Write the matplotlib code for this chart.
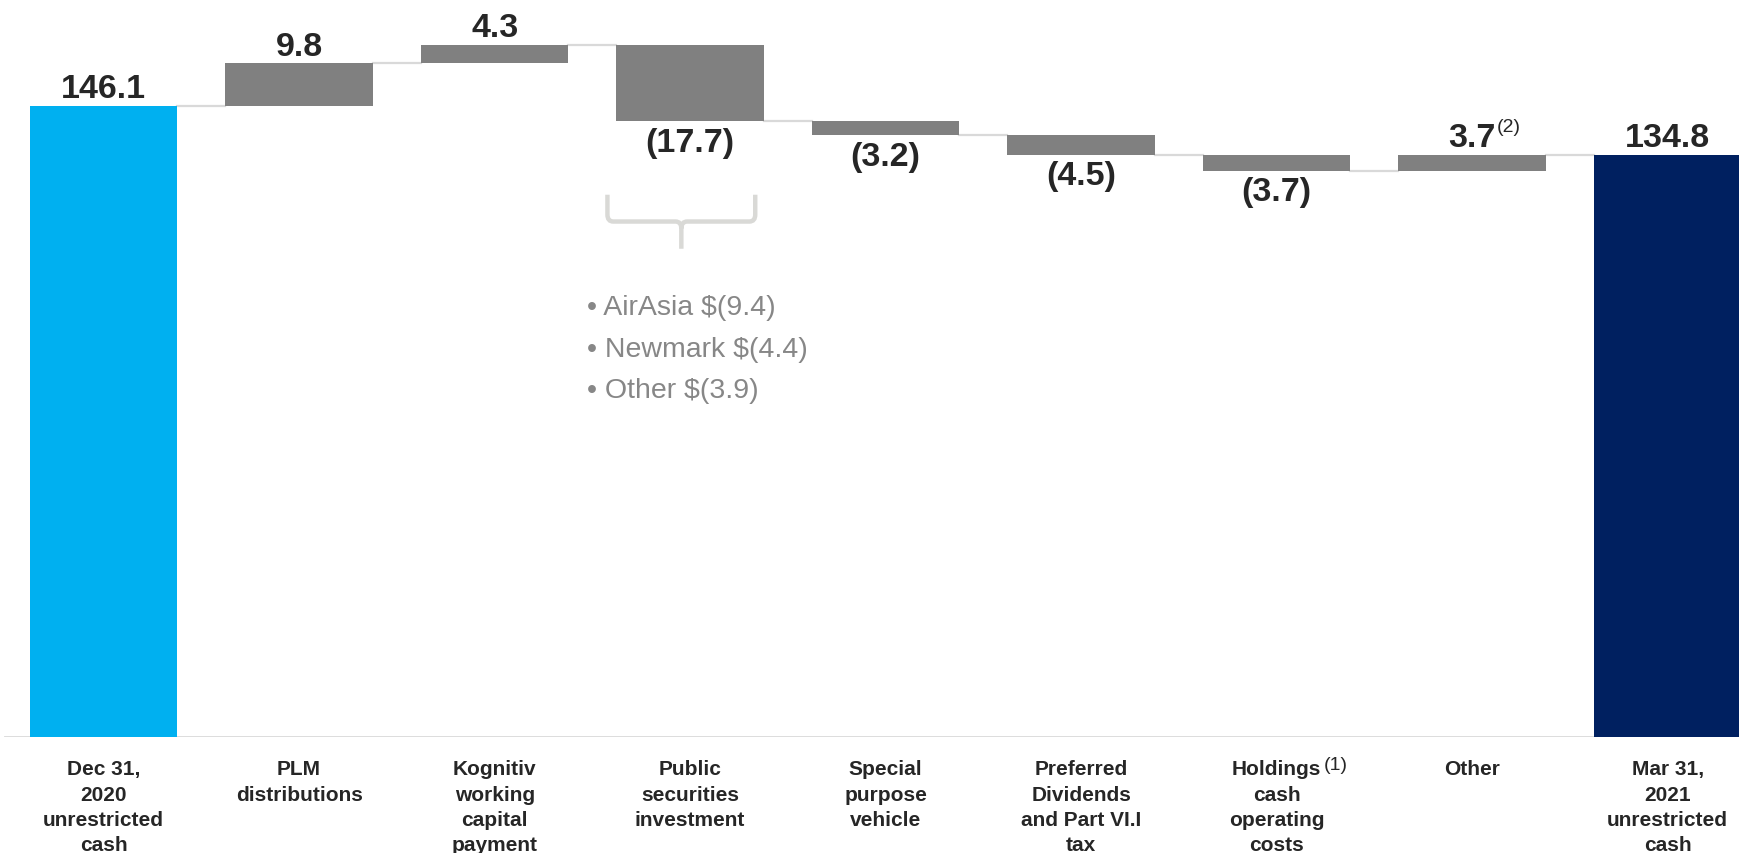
import numpy as np
import matplotlib.pyplot as plt
from matplotlib.path import Path
from matplotlib.patches import PathPatch

# --- data -------------------------------------------------------------
categories = ["Dec 31,\n2020\nunrestricted\ncash", "PLM\ndistributions",
              "Kognitiv\nworking\ncapital\npayment", "Public\nsecurities\ninvestment",
              "Special\npurpose\nvehicle", "Preferred\nDividends\nand Part VI.I\ntax",
              "Holdings\ncash\noperating\ncosts", "Other",
              "Mar 31,\n2021\nunrestricted\ncash"]
start_cash = 146.1
changes = [9.8, 4.3, -17.7, -3.2, -4.5, -3.7, 3.7]
end_cash = 134.8
value_labels = ["146.1", "9.8", "4.3", "(17.7)", "(3.2)", "(4.5)", "(3.7)", "3.7", "134.8"]
breakdown = ["AirAsia $(9.4)", "Newmark $(4.4)", "Other $(3.9)"]

# --- styles -----------------------------------------------------------
# no Arial Narrow here, plain Liberation Sans a bit smaller instead
FONT = ['Liberation Sans', 'DejaVu Sans']
C_START, C_END, C_STEP = "#00b0f0", "#002060", "#808080"
C_TEXT, C_LINE = "#262626", "#d9d9d9"
W = 0.755

# running totals -> bottoms / heights
bottoms, heights = [0.0], [start_cash]
total = start_cash
for c in changes:
    bottoms.append(total if c > 0 else total + c)
    heights.append(abs(c))
    total += c
bottoms.append(0.0)
heights.append(end_cash)
colors = [C_START] + [C_STEP] * len(changes) + [C_END]
x = np.arange(len(categories))

fig = plt.figure(figsize=(17.4, 8.54), dpi=100)
ax = fig.add_axes([0, 116 / 854, 1, 1 - 116 / 854])
ax.set_xlim(-0.53, 8.37)
ax.set_ylim(0, 170.8)
for s in ax.spines.values():
    s.set_visible(False)
ax.set_yticks([])

ax.axhline(0, color=C_LINE, lw=2, xmin=0.003, zorder=1)
ax.bar(x, heights, bottom=bottoms, width=W, color=colors, zorder=3)

# connectors
levels = [start_cash]
for c in changes:
    levels.append(levels[-1] + c)
for i, lv in enumerate(levels):
    ax.plot([x[i] + W / 2, x[i + 1] - W / 2], [lv, lv], color=C_LINE, lw=1.6, zorder=2)

# value labels
signs = [1] + [1 if c > 0 else -1 for c in changes] + [1]
val_txt = []
for i, lab in enumerate(value_labels):
    if signs[i] > 0:
        t = ax.annotate(lab, (x[i], bottoms[i] + heights[i]), xytext=(0, 6),
                        textcoords="offset points", ha="center", va="baseline",
                        fontsize=24.5, fontweight="bold", color=C_TEXT, family=FONT)
    else:
        t = ax.annotate(lab, (x[i], bottoms[i]), xytext=(0, -4),
                        textcoords="offset points", ha="center", va="top",
                        fontsize=24.5, fontweight="bold", color=C_TEXT, family=FONT)
    val_txt.append(t)

# category labels
ax.set_xticks(x)
ax.set_xticklabels(categories, fontsize=15, fontweight="bold", color=C_TEXT,
                   family=FONT, linespacing=1.42)
ax.tick_params(axis="x", length=0, pad=16)

# brace under public securities bar
xc = x[3] - 0.045
yb = bottoms[3]
x0, x1 = xc - 0.378, xc + 0.378
ytop, yh, ystem = yb - 17, yb - 23.2, yb - 29.5
r, ry = 0.03, 1.6
verts = [(x0, ytop), (x0, yh + ry), (x0, yh), (x0 + r, yh),
         (xc - r, yh), (xc, yh), (xc, yh - ry), (xc, ystem),
         (xc, yh - ry), (xc, yh), (xc + r, yh),
         (x1 - r, yh), (x1, yh), (x1, yh + ry), (x1, ytop)]
codes = [Path.MOVETO, Path.LINETO, Path.CURVE3, Path.CURVE3,
         Path.LINETO, Path.CURVE3, Path.CURVE3, Path.LINETO,
         Path.MOVETO, Path.CURVE3, Path.CURVE3,
         Path.LINETO, Path.CURVE3, Path.CURVE3, Path.LINETO]
ax.add_patch(PathPatch(Path(verts, codes), fill=False, edgecolor="#d9d9d6",
                       lw=3.2, capstyle="butt", zorder=2))

# breakdown list
for k, item in enumerate(breakdown):
    ax.text(x[3] - 0.525, 99.5 - 9.6 * k, "\u2022 " + item, ha="left", va="center",
            fontsize=20.5, color="#878787", family=FONT)

# superscripts (placed next to rendered text)
fig.canvas.draw()
rend = fig.canvas.get_renderer()

bb = val_txt[7].get_window_extent(rend)
ax.text(bb.x1 + 1, bb.y1 + 4, "(2)", transform=None, ha="left", va="top",
        fontsize=14, color=C_TEXT, family=FONT)

lab = ax.get_xticklabels()[6]
bb = lab.get_window_extent(rend)
tmp = fig.text(0, 0, "Holdings", fontsize=15, fontweight="bold", family=FONT)
w = tmp.get_window_extent(rend).width
tmp.remove()
cx = ax.transData.transform((x[6], 0))[0]
ax.text(cx + w / 2 + 2, bb.y1 + 3, "(1)", transform=None, ha="left", va="top",
        fontsize=14, color=C_TEXT, family=FONT)

fig.savefig("out.png", dpi=100)
